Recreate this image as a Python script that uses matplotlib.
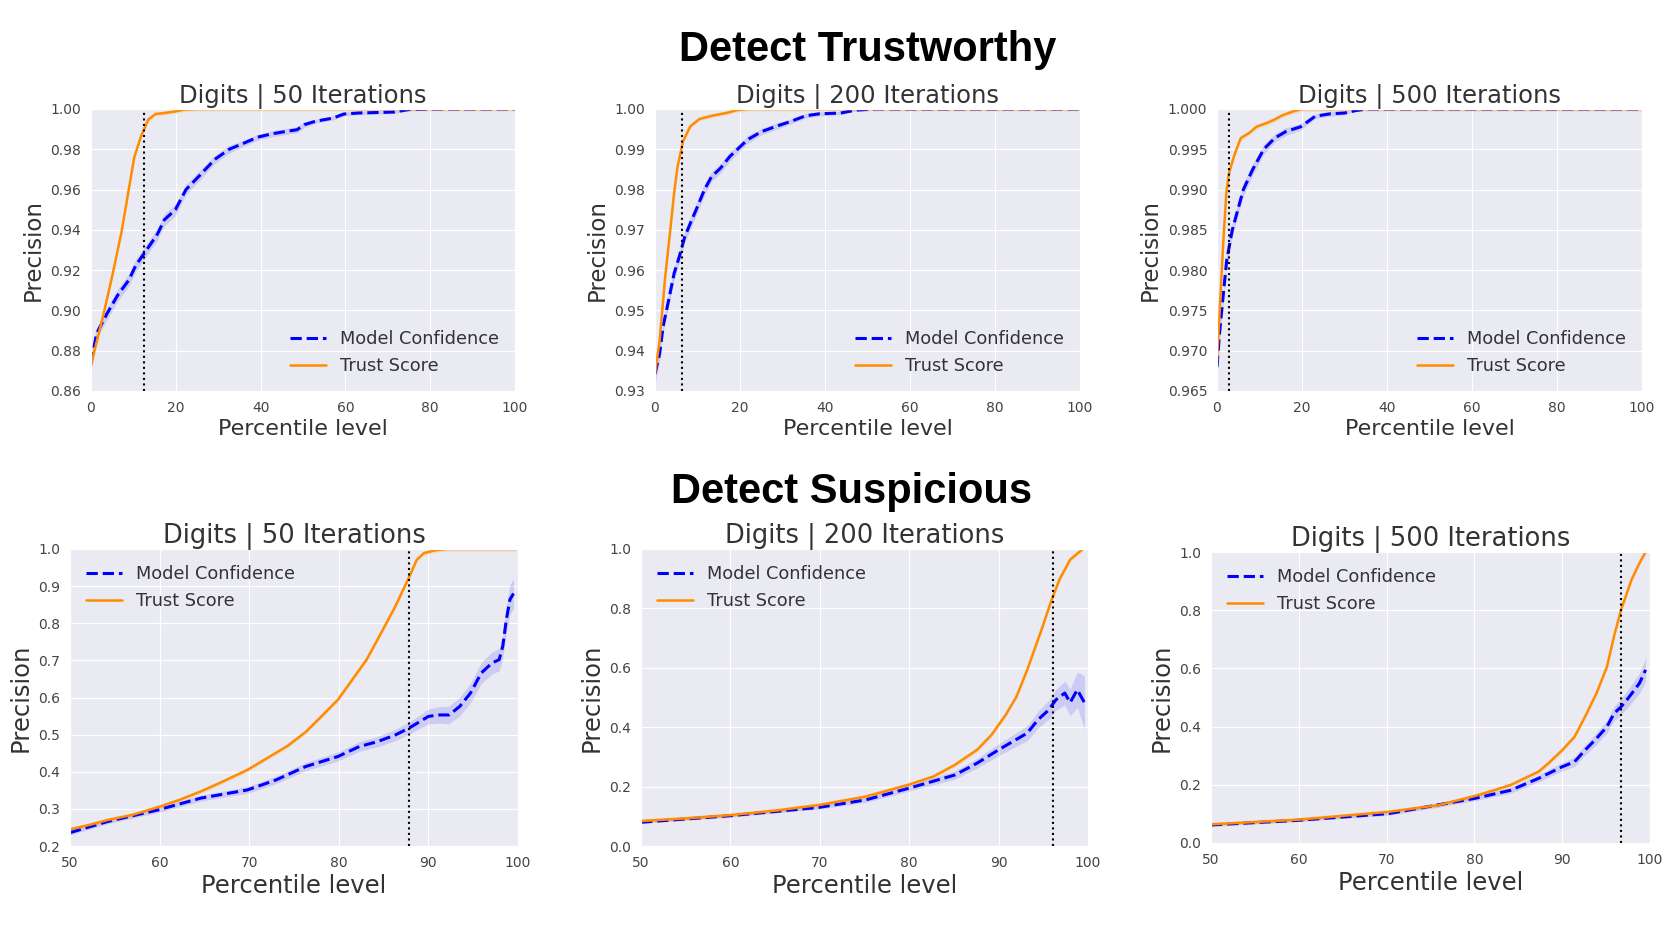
import matplotlib
matplotlib.use("Agg")
import matplotlib.pyplot as plt
import seaborn as sns
import numpy as np

# ---- Detect Trustworthy, 50 iterations ----
tl_ts_x = [0, 3, 5.1, 7.2, 8.9, 10.2, 11.8, 13.5, 15.2, 17.3, 19.9, 22, 25, 30, 100]
tl_ts_y = [0.873, 0.8985, 0.918, 0.939, 0.96, 0.976, 0.9865, 0.9947, 0.9975, 0.998, 0.9988, 0.9997, 1.0, 1.0, 1.0]
tl_mc_x = [0, 1.3, 3.8, 6.3, 8.9, 10.6, 13.1, 15.7, 17.3, 19.9, 22.4, 25.4, 29.2, 32.6, 36, 39.3,
           42.7, 46.1, 48.6, 50.3, 52.9, 57.1, 59.6, 63, 71.5, 74.9, 80, 100]
tl_mc_y = [0.8736, 0.8885, 0.8985, 0.9076, 0.915, 0.9225, 0.93, 0.938, 0.945, 0.95, 0.96, 0.9665, 0.975,
           0.98, 0.983, 0.986, 0.9877, 0.9889, 0.9897, 0.9922, 0.9939, 0.9955, 0.9975, 0.998, 0.9985,
           0.9997, 1.0, 1.0]
tl_mc_err = [0.005, 0.003, 0.003, 0.003, 0.003, 0.003, 0.003, 0.003, 0.003, 0.003, 0.0025, 0.0025, 0.002,
             0.002, 0.0015, 0.0015, 0.0015, 0.0015, 0.0015, 0.0015, 0.001, 0.001, 0.001, 0.0008, 0.0008,
             0.0005, 0, 0]
tl_cut = 12.5

# ---- Detect Trustworthy, 200 iterations ----
tm_ts_x = [0, 1.1, 2.4, 3.6, 4.5, 5.3, 6.6, 8.3, 10.4, 13.3, 16.7, 19.2, 22, 30, 100]
tm_ts_y = [0.9343, 0.9426, 0.9584, 0.97, 0.9791, 0.9857, 0.992, 0.9957, 0.9975, 0.9983, 0.999, 0.9997, 1.0, 1.0, 1.0]
tm_mc_x = [0, 1.1, 1.9, 3.2, 4.5, 5.7, 7, 8.3, 10, 11.6, 13.3, 15.4, 17.6, 20.1, 21.8, 25.1, 28.5,
           31.9, 35.4, 38.6, 43.7, 47.1, 52, 100]
tm_mc_y = [0.9343, 0.9393, 0.946, 0.9525, 0.9592, 0.9633, 0.9683, 0.9716, 0.9758, 0.9799, 0.9832,
           0.9853, 0.9882, 0.9907, 0.9924, 0.9944, 0.9957, 0.9969, 0.9983, 0.9988, 0.999, 0.9997, 1.0, 1.0]
tm_mc_err = [0.003, 0.0015, 0.0015, 0.0015, 0.0015, 0.0015, 0.0015, 0.0015, 0.0015, 0.0015, 0.0012,
             0.0012, 0.0012, 0.001, 0.001, 0.0008, 0.0008, 0.0006, 0.0006, 0.0005, 0.0004, 0.0002, 0, 0]
tm_cut = 6.4

# ---- Detect Trustworthy, 500 iterations ----
tr_ts_x = [0, 0.6, 1.5, 2.2, 2.8, 4.1, 5.6, 7.5, 9.3, 11.9, 13.6, 15.3, 17.9, 20, 30, 100]
tr_ts_y = [0.9688, 0.9746, 0.9837, 0.9896, 0.992, 0.9943, 0.9964, 0.997, 0.9978, 0.9983, 0.9987,
           0.9992, 0.9997, 1.0, 1.0, 1.0]
tr_mc_x = [0, 0.6, 1.5, 2.3, 3.6, 4.9, 6.2, 8.4, 11, 13.6, 16.2, 19.7, 23.1, 26.6, 30, 32.6, 35.2, 100]
tr_mc_y = [0.968, 0.9722, 0.9771, 0.9813, 0.985, 0.9875, 0.99, 0.9925, 0.995, 0.9964, 0.9972, 0.9978,
           0.9991, 0.9994, 0.9995, 0.9998, 1.0, 1.0]
tr_mc_err = [0.0015, 0.001, 0.0008, 0.0008, 0.0008, 0.0008, 0.0008, 0.0007, 0.0006, 0.0005, 0.0005,
             0.0004, 0.0003, 0.0003, 0.0002, 0.0001, 0, 0]
tr_cut = 2.8

# ---- Detect Suspicious, 50 iterations ----
bl_ts_x = [50, 52.2, 54.2, 57, 60, 62.2, 64.6, 67, 69.8, 72.3, 74.3, 76.3, 78.3, 79.9, 81.5, 83.1,
           84.7, 86.3, 87.8, 88.7, 89.5, 90.7, 91.9, 95, 99.8]
bl_ts_y = [0.245, 0.257, 0.270, 0.284, 0.306, 0.324, 0.347, 0.373, 0.405, 0.441, 0.470, 0.507, 0.555,
           0.594, 0.648, 0.702, 0.773, 0.845, 0.922, 0.971, 0.989, 0.996, 1.0, 1.0, 1.0]
bl_mc_x = [50, 54.2, 59.8, 64.6, 69.8, 73, 76.3, 79.9, 82.3, 84.3, 86.3, 87.8, 90, 91.1, 92.3, 93.5,
           94.7, 95.9, 97.1, 97.9, 98.3, 98.7, 99.1, 99.5]
bl_mc_y = [0.236, 0.266, 0.297, 0.329, 0.351, 0.378, 0.414, 0.441, 0.468, 0.481, 0.499, 0.517, 0.549,
           0.553, 0.553, 0.576, 0.612, 0.666, 0.693, 0.702, 0.738, 0.810, 0.864, 0.88]
bl_mc_err = [0.006, 0.006, 0.007, 0.008, 0.009, 0.01, 0.011, 0.012, 0.013, 0.014, 0.015, 0.016, 0.02,
             0.022, 0.024, 0.025, 0.026, 0.028, 0.03, 0.03, 0.032, 0.035, 0.04, 0.04]
bl_cut = 87.8

# ---- Detect Suspicious, 200 iterations ----
bm_ts_x = [50, 55, 60, 65, 69.9, 75.1, 79.9, 82.7, 85.1, 87.6, 89.2, 90.8, 92, 93.2, 94, 94.8, 95.8,
           96.8, 98.0, 99.4]
bm_ts_y = [0.084, 0.093, 0.104, 0.119, 0.138, 0.166, 0.206, 0.234, 0.273, 0.324, 0.374, 0.442, 0.503,
           0.593, 0.661, 0.728, 0.818, 0.897, 0.964, 1.0]
bm_mc_x = [50, 60, 69.9, 75.1, 79.9, 85.1, 87.6, 90, 91.6, 93.2, 94.4, 95.6, 96.4, 97.4, 98, 98.8, 99.6]
bm_mc_y = [0.08, 0.102, 0.130, 0.155, 0.194, 0.239, 0.279, 0.324, 0.352, 0.380, 0.425, 0.458, 0.492,
           0.515, 0.483, 0.526, 0.483]
bm_mc_err = [0.003, 0.004, 0.006, 0.008, 0.01, 0.014, 0.016, 0.02, 0.022, 0.025, 0.028, 0.032, 0.035,
             0.04, 0.045, 0.06, 0.09]
bm_cut = 96.1

# ---- Detect Suspicious, 500 iterations ----
br_ts_x = [50, 59.9, 70.2, 75.9, 80, 82, 84.1, 87.3, 88.5, 90, 91.4, 92.6, 93.9, 95.1, 95.9, 96.7,
           97.9, 98.8, 99.5]
br_ts_y = [0.064, 0.080, 0.107, 0.130, 0.161, 0.179, 0.199, 0.245, 0.276, 0.319, 0.365, 0.434, 0.514,
           0.606, 0.710, 0.801, 0.905, 0.962, 1.0]
br_mc_x = [50, 59.9, 70.2, 80, 84.1, 87.3, 90, 91.4, 92.6, 93.9, 95.1, 95.9, 96.7, 97.5, 98.8, 99.5]
br_mc_y = [0.062, 0.078, 0.101, 0.153, 0.181, 0.222, 0.262, 0.279, 0.319, 0.359, 0.40, 0.445, 0.468,
           0.497, 0.549, 0.595]
br_mc_err = [0.003, 0.004, 0.006, 0.008, 0.01, 0.012, 0.014, 0.016, 0.018, 0.02, 0.022, 0.025, 0.028,
             0.03, 0.035, 0.04]
br_cut = 96.7

top_xticks = [0, 20, 40, 60, 80, 100]
bot_xticks = [50, 60, 70, 80, 90, 100]
tl_yticks = [0.86, 0.88, 0.90, 0.92, 0.94, 0.96, 0.98, 1.00]
tm_yticks = [0.93, 0.94, 0.95, 0.96, 0.97, 0.98, 0.99, 1.00]
tr_yticks = [0.965, 0.970, 0.975, 0.980, 0.985, 0.990, 0.995, 1.000]
bl_yticks = [0.2, 0.3, 0.4, 0.5, 0.6, 0.7, 0.8, 0.9, 1.0]
bm_yticks = [0.0, 0.2, 0.4, 0.6, 0.8, 1.0]
br_yticks = [0.0, 0.2, 0.4, 0.6, 0.8, 1.0]

sns.set_style("darkgrid")
plt.rcParams['font.family'] = ['DejaVu Sans']

TEXT = '#333333'


def draw_panel(rect, title, mc_x, mc_y, mc_err, ts_x, ts_y, ts_err, cut, xticks, yticks, fmt,
               legend_loc, sizes):
    t_size, x_size, y_size = sizes
    ax = fig.add_axes(rect)
    mc_x = np.array(mc_x)
    mc_y = np.array(mc_y)
    mc_err = np.array(mc_err)
    ts_x = np.array(ts_x)
    ts_y = np.array(ts_y)
    ax.fill_between(mc_x, mc_y - mc_err, mc_y + mc_err, color='blue', alpha=0.13, lw=0)
    ax.fill_between(ts_x, ts_y - ts_err, ts_y + ts_err, color='darkorange', alpha=0.15, lw=0)
    ax.plot(mc_x, mc_y, color='blue', ls='--', lw=2.2, label='Model Confidence')
    ax.plot(ts_x, ts_y, color='darkorange', lw=1.8, label='Trust Score')
    ax.axvline(cut, color='black', ls=':', lw=1.5)
    ax.set_xlim(xticks[0], xticks[-1])
    ax.set_ylim(yticks[0], yticks[-1])
    ax.set_xticks(xticks)
    ax.set_yticks(yticks)
    ax.set_xticklabels([str(t) for t in xticks])
    ax.set_yticklabels([fmt % t for t in yticks])
    ax.tick_params(length=0, pad=7, labelsize=10, labelcolor='#444444')
    ax.set_title(title, fontsize=t_size, color=TEXT, pad=4)
    ax.set_xlabel('Percentile level', fontsize=x_size, color=TEXT, labelpad=3)
    ax.set_ylabel('Precision', fontsize=y_size, color=TEXT, labelpad=4)
    ax.legend(loc=legend_loc, fontsize=12.8, frameon=False, labelcolor=TEXT)
    return ax


W, H = 1674, 932
fig = plt.figure(figsize=(W / 100, H / 100), dpi=100)


def px_rect(left, top, right, bottom):
    return [left / W, 1 - bottom / H, (right - left) / W, (bottom - top) / H]


top_sizes = (17.5, 16, 16.5)
bot_sizes = (18.5, 17.5, 17.5)

draw_panel(px_rect(91, 109, 515, 391), 'Digits | 50 Iterations', tl_mc_x, tl_mc_y, tl_mc_err,
           tl_ts_x, tl_ts_y, 0.001, tl_cut, top_xticks, tl_yticks, '%.2f', 'lower right', top_sizes)
draw_panel(px_rect(655, 109, 1080, 391), 'Digits | 200 Iterations', tm_mc_x, tm_mc_y, tm_mc_err,
           tm_ts_x, tm_ts_y, 0.0005, tm_cut, top_xticks, tm_yticks, '%.2f', 'lower right', top_sizes)
draw_panel(px_rect(1217, 109, 1642, 391), 'Digits | 500 Iterations', tr_mc_x, tr_mc_y, tr_mc_err,
           tr_ts_x, tr_ts_y, 0.0003, tr_cut, top_xticks, tr_yticks, '%.3f', 'lower right', top_sizes)
draw_panel(px_rect(70, 549, 518, 846), 'Digits | 50 Iterations', bl_mc_x, bl_mc_y, bl_mc_err,
           bl_ts_x, bl_ts_y, 0.006, bl_cut, bot_xticks, bl_yticks, '%.1f', 'upper left', bot_sizes)
draw_panel(px_rect(641, 549, 1088, 846), 'Digits | 200 Iterations', bm_mc_x, bm_mc_y, bm_mc_err,
           bm_ts_x, bm_ts_y, 0.008, bm_cut, bot_xticks, bm_yticks, '%.1f', 'upper left', bot_sizes)
draw_panel(px_rect(1211, 552, 1650, 843), 'Digits | 500 Iterations', br_mc_x, br_mc_y, br_mc_err,
           br_ts_x, br_ts_y, 0.008, br_cut, bot_xticks, br_yticks, '%.1f', 'upper left', bot_sizes)

fig.text(868 / W, 1 - 61 / H, 'Detect Trustworthy', ha='center', va='baseline', fontsize=30,
         fontweight='bold', family=['Liberation Sans', 'DejaVu Sans'], color='black')
fig.text(852 / W, 1 - 503 / H, 'Detect Suspicious', ha='center', va='baseline', fontsize=30,
         fontweight='bold', family=['Liberation Sans', 'DejaVu Sans'], color='black')

fig.savefig('out.png', dpi=100, facecolor='white')
